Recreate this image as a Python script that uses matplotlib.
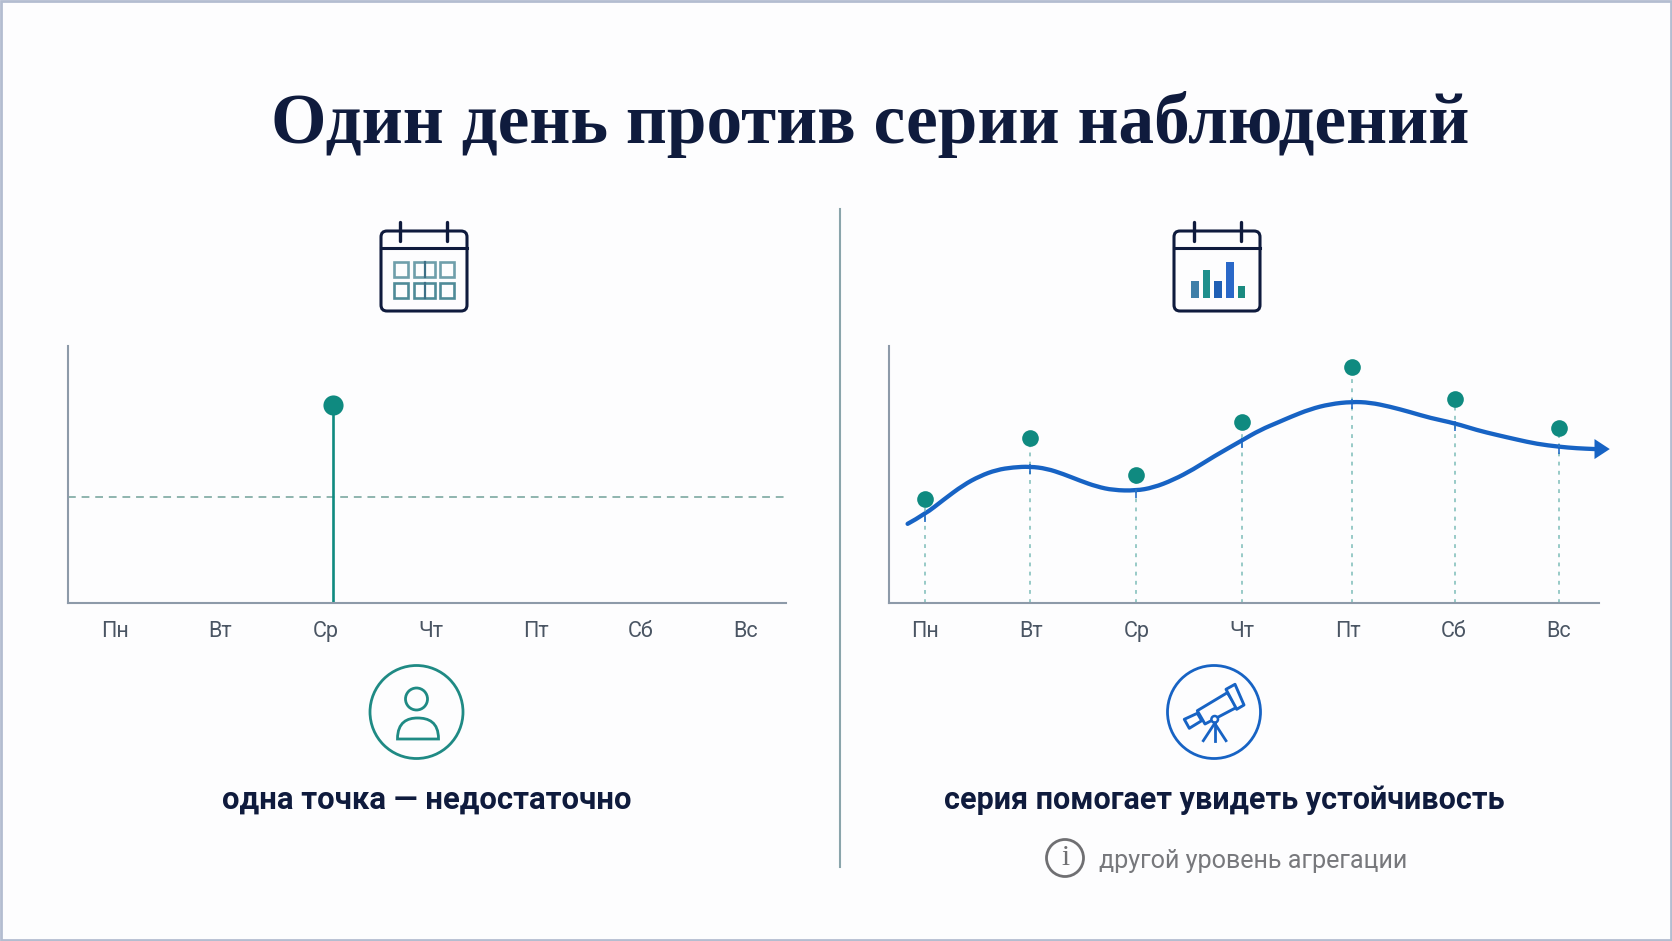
import matplotlib
matplotlib.use('Agg')
import matplotlib.pyplot as plt
from matplotlib.patches import Circle, FancyBboxPatch, Polygon, Rectangle, PathPatch
from matplotlib.path import Path

days = ['Пн', 'Вт', 'Ср', 'Чт', 'Пт', 'Сб', 'Вс']
day_ticks = [0, 1, 2, 3, 4, 5, 6]

# left panel: one observation against a reference level
single_day = 2.07
single_value = 76.7
reference_level = 40.9

# right panel: the week of observations and the trend through them
obs_days = [0, 0.994, 1.997, 3.0, 4.04, 5.02, 6.0]
obs_values = [40.1, 63.8, 49.4, 70.0, 91.4, 79.0, 67.7]
trend_at_days = [34.2, 52.7, 43.3, 62.8, 77.9, 69.5, 60.4]
trend_days = [-0.164, 0.003, 0.173, 0.363, 0.52, 0.678, 0.836, 0.994, 1.151, 1.309,
              1.467, 1.625, 1.782, 1.994, 2.161, 2.35, 2.54, 2.728, 2.997, 3.17,
              3.36, 3.454, 3.643, 3.833, 4.038, 4.211, 4.40, 4.59, 4.78, 5.018,
              5.22, 5.41, 5.60, 5.79, 6.0, 6.167, 6.34]
trend_values = [30.4, 34.2, 39.7, 45.5, 49.0, 51.4, 52.4, 52.7, 51.9, 49.8,
                47.2, 44.9, 43.5, 43.3, 44.5, 47.5, 51.6, 56.5, 62.8, 66.9,
                70.2, 71.9, 75.0, 77.0, 77.9, 77.6, 76.0, 73.9, 71.6, 69.5,
                66.9, 65.0, 63.2, 61.5, 60.4, 59.8, 59.5]

# bars of the small calendar icon
icon_bar_heights = [17, 28, 17, 36, 12]
icon_bar_colors = ['#3f7fa8', '#1f8f8c', '#1f5fb4', '#2a68c8', '#1a8a80']

title = 'Один день против серии наблюдений'
caption_left = 'одна точка — недостаточно'
caption_right = 'серия помогает увидеть устойчивость'
note = 'другой уровень агрегации'

W, H = 1672, 941
NAVY = '#0f1b3d'
TEAL = '#0f8a80'
BLUE = '#1763c4'
AXIS = '#8d9aa9'
TICK = '#4a5563'
BG = '#fdfdfe'
Y_MIN, Y_MAX = -0.4, 99.6


def make_axes(fig, left, right, top=346, bottom=603):
    ax = fig.add_axes([left / W, 1 - bottom / H, (right - left) / W, (bottom - top) / H])
    ax.set_facecolor('none')
    ax.set_ylim(Y_MIN, Y_MAX)
    for side in ['top', 'right']:
        ax.spines[side].set_visible(False)
    for side in ['left', 'bottom']:
        ax.spines[side].set_color(AXIS)
        ax.spines[side].set_linewidth(1.5)
    ax.set_yticks([])
    ax.set_xticks(day_ticks)
    ax.set_xticklabels(days, fontsize=15.5, color=TICK, family='Roboto')
    ax.tick_params(axis='x', length=0, pad=13)
    return ax


def smooth_path(xs, ys):
    # quadratic segments between midpoints, the read points act as control points
    verts = [(xs[0], ys[0])]
    codes = [Path.MOVETO]
    for i in range(1, len(xs) - 1):
        verts.append((xs[i], ys[i]))
        verts.append(((xs[i] + xs[i + 1]) / 2, (ys[i] + ys[i + 1]) / 2))
        codes += [Path.CURVE3, Path.CURVE3]
    verts.append((xs[-1], ys[-1]))
    codes.append(Path.LINETO)
    return Path(verts, codes)


def draw_calendar(ov, left, rings):
    right = left + 86
    ov.add_patch(FancyBboxPatch((left, 231), 86, 80, boxstyle='round,pad=0,rounding_size=6',
                                fc='none', ec=NAVY, lw=2.2))
    ov.plot([left, right], [248, 248], color=NAVY, lw=2.2)
    for x in rings:
        ov.plot([x, x], [222, 241], color=NAVY, lw=2.4, solid_capstyle='round')


fig = plt.figure(figsize=(W / 100, H / 100), dpi=100, facecolor=BG)

# overlay in pixel coordinates for icons and free text
ov = fig.add_axes([0, 0, 1, 1])
ov.set_xlim(0, W)
ov.set_ylim(H, 0)
ov.axis('off')
ov.add_patch(Rectangle((1, 1), W - 2, H - 2, fc='none', ec='#b3bdd0', lw=2))

ov.text(870.5, 124, title, ha='center', va='center', fontsize=51.3, fontweight='bold',
        family='Liberation Serif', color=NAVY)
ov.plot([840, 840], [209, 867], color='#8aa5ab', lw=1.5)

# left chart
ax1 = make_axes(fig, 68, 786)
ax1.set_xlim(-0.447, 6.38)
ax1.axhline(reference_level, color='#8fb5ae', lw=1.4, ls=(0, (4, 3)))
ax1.plot([single_day, single_day], [Y_MIN, single_value], color=TEAL, lw=1.9)
ax1.plot([single_day], [single_value], 'o', color=TEAL, ms=14.5, mew=0)

# right chart
ax2 = make_axes(fig, 889, 1599)
ax2.set_xlim(-0.34, 6.378)
ax2.vlines(obs_days, Y_MIN, obs_values, color='#7dbcb8', lw=1.1, linestyles=(0, (2.5, 3.5)))
ax2.add_patch(PathPatch(smooth_path(trend_days, trend_values), fc='none', ec=BLUE, lw=3.1,
                        capstyle='round', joinstyle='round'))
ax2.vlines(obs_days, [v - 3 for v in trend_at_days], [v + 1 for v in trend_at_days], color=BLUE, lw=1.1)
ax2.annotate('', xy=(6.48, trend_values[-1]), xytext=(trend_days[-1], trend_values[-1]),
             annotation_clip=False,
             arrowprops=dict(arrowstyle='-|>,head_length=0.55,head_width=0.36', mutation_scale=20,
                             color=BLUE, lw=0, shrinkA=0, shrinkB=0))
ax2.plot(obs_days, obs_values, 'o', color=TEAL, ms=12, mew=0, clip_on=False, zorder=5)

# calendar with day cells
draw_calendar(ov, 381, [400, 447])
cell_rows = [(262, 277, '#6f9fab'), (283, 298, '#4f8b98')]
for y0, y1, c in cell_rows:
    for x0, x1 in [(394, 408), (414, 435), (440, 454)]:
        ov.add_patch(Rectangle((x0, y0), x1 - x0, y1 - y0, fc='none', ec=c, lw=1.9))
    ov.plot([425, 425], [y0, y1], color='#3d6f86', lw=1.6)

# calendar with bars
draw_calendar(ov, 1174, [1194, 1241])
for i, (h, c) in enumerate(zip(icon_bar_heights, icon_bar_colors)):
    ov.add_patch(Rectangle((1191 + i * 11.7, 298 - h), 7.5, h, fc=c, ec='none'))

# person icon
ov.add_patch(Circle((416.5, 712), 46.5, fc='none', ec='#1f8a84', lw=2))
ov.add_patch(Circle((416.5, 699), 11, fc='none', ec='#1f8a84', lw=2))
body = Path([(397.5, 739), (397.5, 722), (407.5, 718), (417.5, 718), (428.5, 718), (438.5, 722), (438.5, 739), (397.5, 739)],
            [Path.MOVETO, Path.CURVE4, Path.CURVE4, Path.CURVE4, Path.CURVE4, Path.CURVE4, Path.CURVE4, Path.CLOSEPOLY])
ov.add_patch(PathPatch(body, fc='none', ec='#1f8a84', lw=2))

# telescope icon
ov.add_patch(Circle((1214, 712), 46.5, fc='none', ec=BLUE, lw=2))
for pts in [[(1197.3, 710.7), (1227.3, 692.7), (1236.7, 707.3), (1205, 724)],
            [(1226, 689.3), (1235, 684.3), (1244, 705), (1236.7, 709.3)],
            [(1184.3, 719.3), (1197.3, 713.3), (1201.7, 720.7), (1189.3, 728.3)]]:
    ov.add_patch(Polygon(pts, closed=True, fc=BG, ec=BLUE, lw=2.1, joinstyle='round'))
ov.add_patch(Circle((1214.7, 719.3), 3.3, fc=BG, ec=BLUE, lw=1.8))
for xb in [1203.3, 1214.7, 1226]:
    ov.plot([1214.7, xb], [723.3, 740.7], color=BLUE, lw=2)

# captions
ov.text(426.5, 800, caption_left, ha='center', va='center', fontsize=22.4, fontweight='bold',
        family='Roboto', color=NAVY)
ov.text(1224.5, 800, caption_right, ha='center', va='center', fontsize=22, fontweight='bold',
        family='Roboto', color=NAVY)

# info note
ov.add_patch(Circle((1065, 858), 18.5, fc='none', ec='#6f6f72', lw=2))
ov.text(1065, 858, 'i', ha='center', va='center', fontsize=21, family='Liberation Serif', color='#6f6f72')
ov.text(1099, 861, note, ha='left', va='center', fontsize=18.1, family='Roboto', color='#77787c')

fig.savefig('out.png', dpi=100, facecolor=fig.get_facecolor())
plt.close(fig)
